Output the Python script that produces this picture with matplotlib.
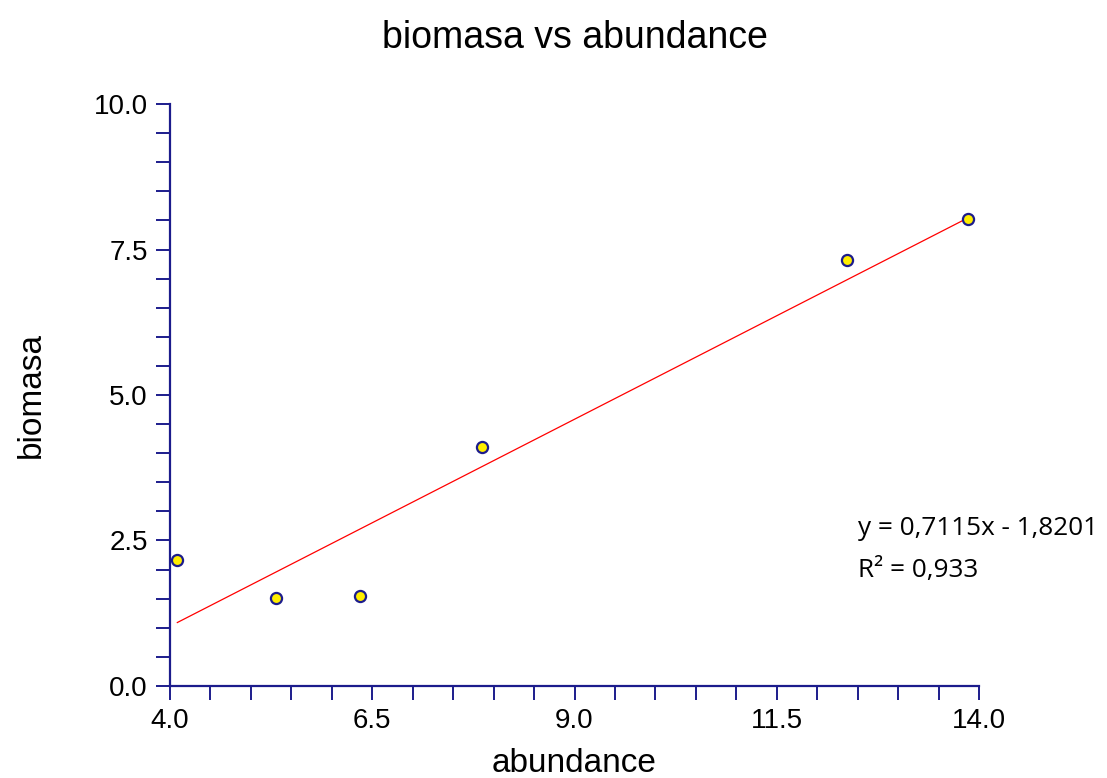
import matplotlib.pyplot as plt
from matplotlib.ticker import MultipleLocator

# data
abundance = [4.09, 5.31, 6.35, 7.86, 12.37, 13.86]
biomasa = [2.16, 1.51, 1.55, 4.11, 7.32, 8.02]
slope = 0.7115
intercept = -1.8201
r2_label = "R² = 0,933"
eq_label = "y = 0,7115x - 1,8201"
xticks = [4.0, 6.5, 9.0, 11.5, 14.0]
yticks = [0.0, 2.5, 5.0, 7.5, 10.0]

navy = '#1c1c8c'

fig = plt.figure(figsize=(11.07, 7.78), dpi=100)
ax = fig.add_axes([0.1536, 0.1183, 0.7308, 0.748])

# trend line over the data range
x0, x1 = min(abundance), max(abundance)
ax.plot([x0, x1], [slope * x0 + intercept, slope * x1 + intercept], color='red', lw=0.9, zorder=2)
ax.plot(abundance, biomasa, 'o', markersize=8, markerfacecolor='#ffee00',
        markeredgecolor=navy, markeredgewidth=1.6, zorder=3, clip_on=False)

ax.set_xlim(4.0, 14.0)
ax.set_ylim(0.0, 10.0)
ax.set_xticks(xticks)
ax.set_yticks(yticks)
ax.xaxis.set_minor_locator(MultipleLocator(0.5))
ax.yaxis.set_minor_locator(MultipleLocator(0.5))
ax.set_xticklabels(['%.1f' % v for v in xticks])
ax.set_yticklabels(['%.1f' % v for v in yticks])

for s in ['top', 'right']:
    ax.spines[s].set_visible(False)
for s in ['left', 'bottom']:
    ax.spines[s].set_color(navy)
    ax.spines[s].set_linewidth(1.6)
ax.tick_params(which='both', direction='out', length=10, width=1.4, color=navy)
ax.tick_params(axis='both', labelsize=20, labelcolor='black', pad=6)
for lab in ax.get_xticklabels() + ax.get_yticklabels():
    lab.set_family('Liberation Sans')

ax.set_title('biomasa vs abundance', fontsize=27, family='Liberation Sans', pad=40)
ax.set_xlabel('abundance', fontsize=24, family='Liberation Sans', labelpad=10)
ax.set_ylabel('biomasa', fontsize=24, family='Liberation Sans', labelpad=34)

ax.text(12.5, 2.70, eq_label, fontsize=18.8, family='Open Sans', va='center')
ax.text(12.5, 1.99, r2_label, fontsize=18.8, family='Open Sans', va='center')

fig.savefig('out.png', dpi=100)
